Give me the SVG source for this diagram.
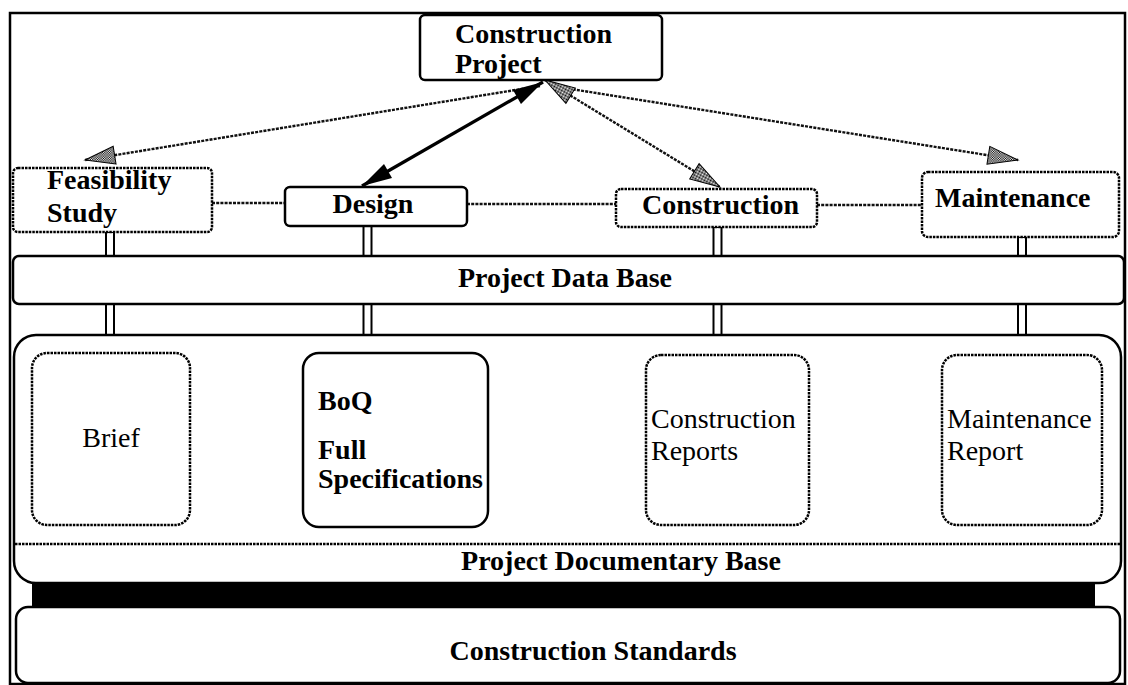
<svg xmlns="http://www.w3.org/2000/svg" width="1128" height="685" viewBox="0 0 1128 685">
<defs>
<style>
.t{font-family:"Liberation Serif","Times New Roman",serif;font-size:28px;fill:#000}
.b{font-weight:bold}
.solid{fill:#fff;stroke:#000;stroke-width:2.5}
.dot{fill:#fff;stroke:#000;stroke-width:2.5;stroke-dasharray:2.5 1}
.dl{fill:none;stroke:#111;stroke-width:2.4;stroke-dasharray:3 1.2}
.pipe{fill:#fff;stroke:#000;stroke-width:2}
</style>
<pattern id="dither" width="2" height="2" patternUnits="userSpaceOnUse">
<rect width="2" height="2" fill="#fff"/>
<rect width="1" height="1" fill="#000"/>
<rect x="1" y="1" width="1" height="1" fill="#000"/>
</pattern>
<marker id="hatch" markerUnits="userSpaceOnUse" markerWidth="32" markerHeight="20" refX="30" refY="9" orient="auto-start-reverse" overflow="visible">
<path d="M0,0 L30,9 L0,18 z" fill="url(#dither)" stroke="#000" stroke-width="1"/>
</marker>
<marker id="solid" markerUnits="userSpaceOnUse" markerWidth="32" markerHeight="20" refX="30" refY="8" orient="auto-start-reverse" overflow="visible">
<path d="M0,0 L30,8 L0,16 z" fill="#000"/>
</marker>
</defs>
<rect width="1128" height="685" fill="#fff"/>

<g id="frame">
<rect x="10" y="13" width="1115" height="671" fill="none" stroke="#000" stroke-width="2.5"/>
</g>

<g id="connectors">
<line class="dl" x1="212" y1="203" x2="285" y2="203"/>
<line class="dl" x1="467" y1="204" x2="616" y2="204"/>
<line class="dl" x1="817" y1="205" x2="922" y2="205"/>
<line class="dl" x1="540" y1="86" x2="85" y2="160" marker-end="url(#hatch)"/>
<line class="dl" x1="552" y1="86" x2="1018" y2="160" marker-end="url(#hatch)"/>
<line class="dl" x1="545" y1="80" x2="720" y2="187" marker-start="url(#hatch)" marker-end="url(#hatch)"/>
<line x1="543" y1="82" x2="362" y2="186" stroke="#000" stroke-width="3.2" marker-start="url(#solid)" marker-end="url(#solid)"/>
<rect class="pipe" x="106" y="232" width="8" height="24"/>
<rect class="pipe" x="363.5" y="226" width="8" height="30"/>
<rect class="pipe" x="713.5" y="227" width="8" height="29"/>
<rect class="pipe" x="1018" y="237" width="8" height="19"/>
<rect class="pipe" x="106" y="304" width="8" height="31"/>
<rect class="pipe" x="363.5" y="304" width="8" height="31"/>
<rect class="pipe" x="713.5" y="304" width="8" height="31"/>
<rect class="pipe" x="1018" y="304" width="8" height="31"/>
</g>

<g id="construction-project">
<rect class="solid" x="420" y="15" width="242" height="65" rx="5"/>
<text class="t b" x="455" y="43">Construction</text>
<text class="t b" x="455" y="73">Project</text>
</g>

<g id="feasibility-study">
<rect class="dot" x="13" y="168" width="199" height="64" rx="5"/>
<text class="t b" x="47" y="189">Feasibility</text>
<text class="t b" x="47" y="222">Study</text>
</g>

<g id="design">
<rect class="solid" x="285" y="187" width="182" height="39" rx="5"/>
<text class="t b" x="373" y="213" text-anchor="middle">Design</text>
</g>

<g id="construction">
<rect class="dot" x="616" y="189" width="201" height="38" rx="5"/>
<text class="t b" x="642" y="214">Construction</text>
</g>

<g id="maintenance">
<rect class="dot" x="922" y="172" width="197" height="65" rx="6"/>
<text class="t b" x="935" y="207">Maintenance</text>
</g>

<g id="project-data-base">
<rect class="solid" x="13" y="256" width="1111" height="48" rx="6"/>
<text class="t b" x="565" y="287" text-anchor="middle">Project Data Base</text>
</g>

<g id="project-documentary-base">
<rect class="solid" x="14" y="335" width="1107" height="248" rx="22"/>
<line x1="15" y1="544" x2="1120" y2="544" stroke="#000" stroke-width="2.4" stroke-dasharray="2.5 1"/>
<text class="t b" x="621" y="570" text-anchor="middle">Project Documentary Base</text>
</g>

<g id="brief">
<rect class="dot" x="32" y="353" width="158" height="172" rx="15"/>
<text class="t" x="111" y="447" text-anchor="middle">Brief</text>
</g>

<g id="boq">
<rect class="solid" x="303" y="353" width="185" height="174" rx="16"/>
<text class="t b" x="318" y="410">BoQ</text>
<text class="t b" x="318" y="459">Full</text>
<text class="t b" x="318" y="488">Specifications</text>
</g>

<g id="construction-reports">
<rect class="dot" x="646" y="355" width="163" height="170" rx="15"/>
<text class="t" x="651" y="428">Construction</text>
<text class="t" x="651" y="460">Reports</text>
</g>

<g id="maintenance-report">
<rect class="dot" x="942" y="355" width="160" height="170" rx="15"/>
<text class="t" x="947" y="428">Maintenance</text>
<text class="t" x="947" y="460">Report</text>
</g>

<g id="link-bar">
<rect x="32" y="584" width="1063" height="24" fill="#000"/>
</g>

<g id="construction-standards">
<rect class="solid" x="16" y="607" width="1104" height="76" rx="12"/>
<text class="t b" x="593" y="660" text-anchor="middle">Construction Standards</text>
</g>
</svg>
